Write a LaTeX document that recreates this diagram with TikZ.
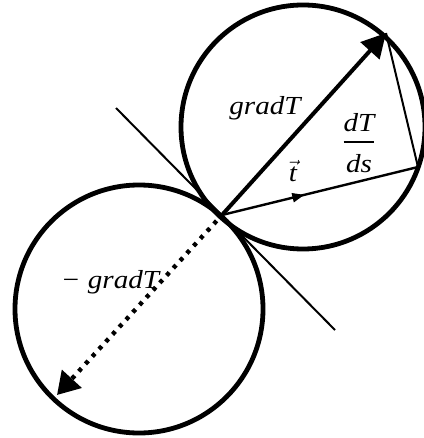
\documentclass[tikz,border=0pt]{standalone}
\usepackage{amsmath}
\usepackage{fontspec}
\setmainfont{Liberation Serif}
\newfontfamily\lblfont{Liberation Serif}[FakeStretch=1.12]
\usetikzlibrary{arrows.meta,decorations.markings}

\begin{document}
\begin{tikzpicture}[x=0.5pt,y=-0.5pt]
\tikzset{
    ring/.style={
        draw=black, line width=2.4pt
    },
    thin line/.style={
        draw=black, line width=1pt
    },
    grad arrow/.style={
        draw=black, line width=2pt, -{Triangle[length=12pt,width=12.5pt]}
    },
    dotted arrow/.style={
        draw=black, line width=2.2pt, dash pattern=on 2pt off 3pt,
        -{Triangle[length=11pt,width=13pt]}
    },
    tvec/.style={
        draw=black, line width=1.2pt,
        postaction={decorate},
        decoration={markings,
            mark=at position 0.42 with {\arrow{Triangle[length=6pt,width=4.5pt]}}}
    },
    lbl/.style={
        font=\lblfont\itshape\fontsize{13}{15}\selectfont, inner sep=0pt
    }
}
\useasboundingbox (0,0) rectangle (423,438);

% Puncte
\coordinate (cU) at (303,127);
\coordinate (cL) at (139,309);
\coordinate (T)  at (222,215);
\coordinate (G)  at (386,33);
\coordinate (P)  at (418,167);
\coordinate (M)  at (57,395);
\coordinate (tA) at (116,108);
\coordinate (tB) at (335,330);

% Cercuri
\draw[ring] (cU) circle[radius=122];
\draw[ring] (cL) circle[radius=124];

% Tangenta si vectori
\draw[thin line] (tA) -- (tB);
\draw[grad arrow] (T) -- (G);
\draw[tvec] (T) -- (P);
\draw[thin line] (P) -- (G);
\draw[dotted arrow, shorten <=4pt] (T) -- (M);

% Etichete
\node[lbl, anchor=base] (gradlbl)  at (265,115) {gradT};
\node[lbl, anchor=base] (fraclbl)  at (359,148)
    {$\genfrac{}{}{0.9pt}{0}{\text{dT}}{\rule{0pt}{12pt}\text{ds}}$};
\node[lbl, anchor=base] (tlbl)     at (293,182) {$\vec{\text{t}}$};
\node[lbl, anchor=base] (mgradlbl) at (110,288) {− gradT};
\end{tikzpicture}
\end{document}
